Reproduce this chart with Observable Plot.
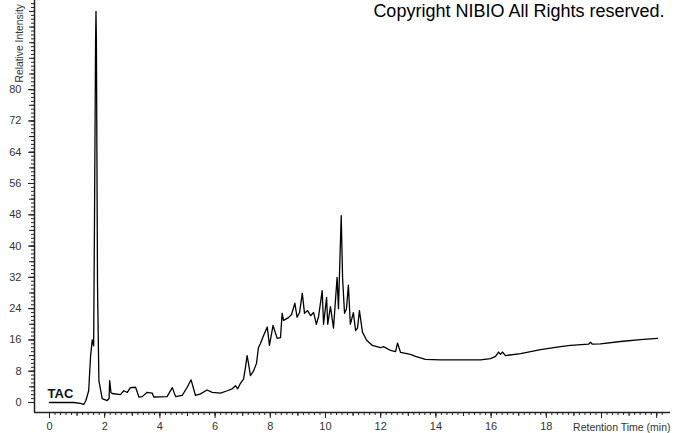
<!DOCTYPE html>
<html>
<head>
<meta charset="utf-8">
<script src="https://cdn.jsdelivr.net/npm/d3@7"></script>
<script src="https://cdn.jsdelivr.net/npm/@observablehq/plot@0.6"></script>
<style>
  html, body { margin: 0; padding: 0; background: #fff; }
  #chart { width: 673px; height: 433px; overflow: hidden; }
</style>
</head>
<body>
<div id="chart"></div>
<script>
// Retention time (min) and relative intensity
const times = [0, 0.87, 1.12, 1.24, 1.32, 1.42, 1.49, 1.55, 1.6, 1.63, 1.67, 1.685, 1.70, 1.74, 1.79, 1.91, 2.09, 2.16, 2.18, 2.23, 2.27, 2.57, 2.69, 2.82, 2.93, 3.12, 3.24, 3.36, 3.54, 3.72, 3.78, 4.26, 4.45, 4.57, 4.81, 4.99, 5.13, 5.29, 5.47, 5.71, 5.9, 6.2, 6.44, 6.62, 6.74, 6.82, 6.92, 7.03, 7.1, 7.16, 7.21, 7.28, 7.39, 7.5, 7.57, 7.64, 7.75, 7.89, 7.97, 8.1, 8.25, 8.37, 8.43, 8.48, 8.66, 8.77, 8.89, 8.97, 9.06, 9.16, 9.24, 9.35, 9.46, 9.57, 9.67, 9.75, 9.88, 9.93, 10.04, 10.08, 10.18, 10.29, 10.42, 10.47, 10.57, 10.62, 10.69, 10.76, 10.83, 10.9, 11.01, 11.09, 11.16, 11.23, 11.34, 11.49, 11.7, 11.99, 12.1, 12.36, 12.54, 12.61, 12.72, 13.08, 13.26, 13.62, 14.17, 14.89, 15.62, 15.98, 16.16, 16.27, 16.34, 16.41, 16.52, 17.07, 17.79, 18.51, 18.88, 19.53, 19.6, 19.67, 19.96, 20.69, 21.41, 22.03];
const intensity = [0, 0, -0.2, -0.5, 0.5, 3, 12, 16, 14.5, 46, 92, 100, 92, 30, 5.6, 1, 0.5, 1, 5.6, 2.5, 2.3, 2, 3, 2.6, 3.8, 3.9, 1.4, 1.5, 2.6, 2.4, 1.4, 1.5, 3.8, 1.5, 1.8, 3.9, 5.8, 1.8, 2.2, 3.2, 2.6, 2.4, 3, 3.5, 4.3, 3.5, 4.9, 6, 9, 12, 10, 6.9, 8, 10, 14, 15, 17, 19.3, 14.6, 19.7, 16.4, 16.6, 22.8, 21, 21.7, 22.5, 25.4, 21.8, 23, 27.9, 22.8, 23.5, 22.2, 23, 20, 22, 28.6, 20, 26.9, 20, 24.5, 19, 32, 24, 47.8, 31.7, 22.8, 24, 30, 20, 23, 18.4, 19, 23.5, 18, 15.9, 14.6, 14, 14.3, 13.3, 13, 15.2, 12.8, 12.3, 11.8, 11, 10.9, 10.9, 10.9, 11.2, 11.8, 12.9, 12.3, 12.9, 12, 12.5, 13.5, 14.3, 14.6, 14.9, 15.4, 14.9, 15, 15.6, 16.1, 16.4];

const xMajorTicks = [0, 2, 4, 6, 8, 10, 12, 14, 16, 18];
const yMajorTicks = [0, 8, 16, 24, 32, 40, 48, 56, 64, 72, 80];
const traceName = "TAC";
const xTitle = "Retention Time (min)";
const yTitle = "Relative Intensity";
const copyright = "Copyright NIBIO All Rights reserved.";

const data = times.map((t, i) => ({t, v: intensity[i]}));

const xMinor = d3.range(0, 112).map(i => +(i * 0.2).toFixed(2));
const xMid = d3.range(0, 23);
const xMajorAll = d3.range(0, 23, 2);
const yMinor = d3.range(0, 103);
const yMid = d3.range(0, 103, 4);

const font = "'Liberation Sans', Arial, sans-serif";
const axisColor = "#222";

const xMin = -0.543, xMax = 22.5;
const yMin = -2.56, yMax = 102.8;

const chart = Plot.plot({
  width: 673,
  height: 433,
  marginLeft: 34,
  marginRight: 3,
  marginTop: 0,
  marginBottom: 21,
  style: {fontFamily: font, fontSize: "11px", background: "#fff", overflow: "visible"},
  x: {domain: [xMin, xMax]},
  y: {domain: [yMin, yMax]},
  marks: [
    // axis lines
    Plot.ruleX([xMin], {y1: yMin, y2: yMax, stroke: axisColor, strokeWidth: 1.5}),
    Plot.ruleY([yMin], {x1: xMin, x2: xMax, stroke: axisColor, strokeWidth: 1.5}),
    // x ticks
    Plot.axisX(xMinor, {tickSize: 3, tickFormat: () => "", stroke: axisColor, label: null}),
    Plot.axisX(xMid, {tickSize: 4, tickFormat: () => "", stroke: axisColor, label: null}),
    Plot.axisX(xMajorAll, {tickSize: 6, tickFormat: () => "", stroke: axisColor, label: null}),
    Plot.axisX(xMajorTicks, {tickSize: 0, tickPadding: 10, fill: "#333", fontSize: 11, label: null}),
    // y ticks
    Plot.axisY(yMinor, {tickSize: 3, tickFormat: () => "", stroke: axisColor, label: null}),
    Plot.axisY(yMid, {tickSize: 5, tickFormat: () => "", stroke: axisColor, label: null}),
    Plot.axisY(yMajorTicks, {tickSize: 6, tickPadding: 7, fill: "#333", fontSize: 11, stroke: axisColor, label: null}),
    // titles
    Plot.text([xTitle], {frameAnchor: "bottom-right", dx: 0, dy: 15, text: d => d, textAnchor: "end", lineAnchor: "middle", fill: "#333", fontSize: 10.5}),
    Plot.text([yTitle], {x: xMin - 15 / 27.6, y: (402 - 82) / 3.91, text: d => d, rotate: -90, textAnchor: "start", lineAnchor: "middle", fill: "#333", fontSize: 10.3}),
    Plot.text([copyright], {frameAnchor: "top-right", dx: -6, dy: 4, text: d => d, textAnchor: "end", lineAnchor: "top", fill: "#000", fontSize: 18}),
    Plot.text([traceName], {x: -0.07, y: 1.2, text: d => d, textAnchor: "start", lineAnchor: "bottom", fill: "#111", fontSize: 13, fontWeight: "bold"}),
    // trace
    Plot.line(data, {x: "t", y: "v", stroke: "#000", strokeWidth: 1.3})
  ]
});
document.getElementById("chart").appendChild(chart);
</script>
</body>
</html>
